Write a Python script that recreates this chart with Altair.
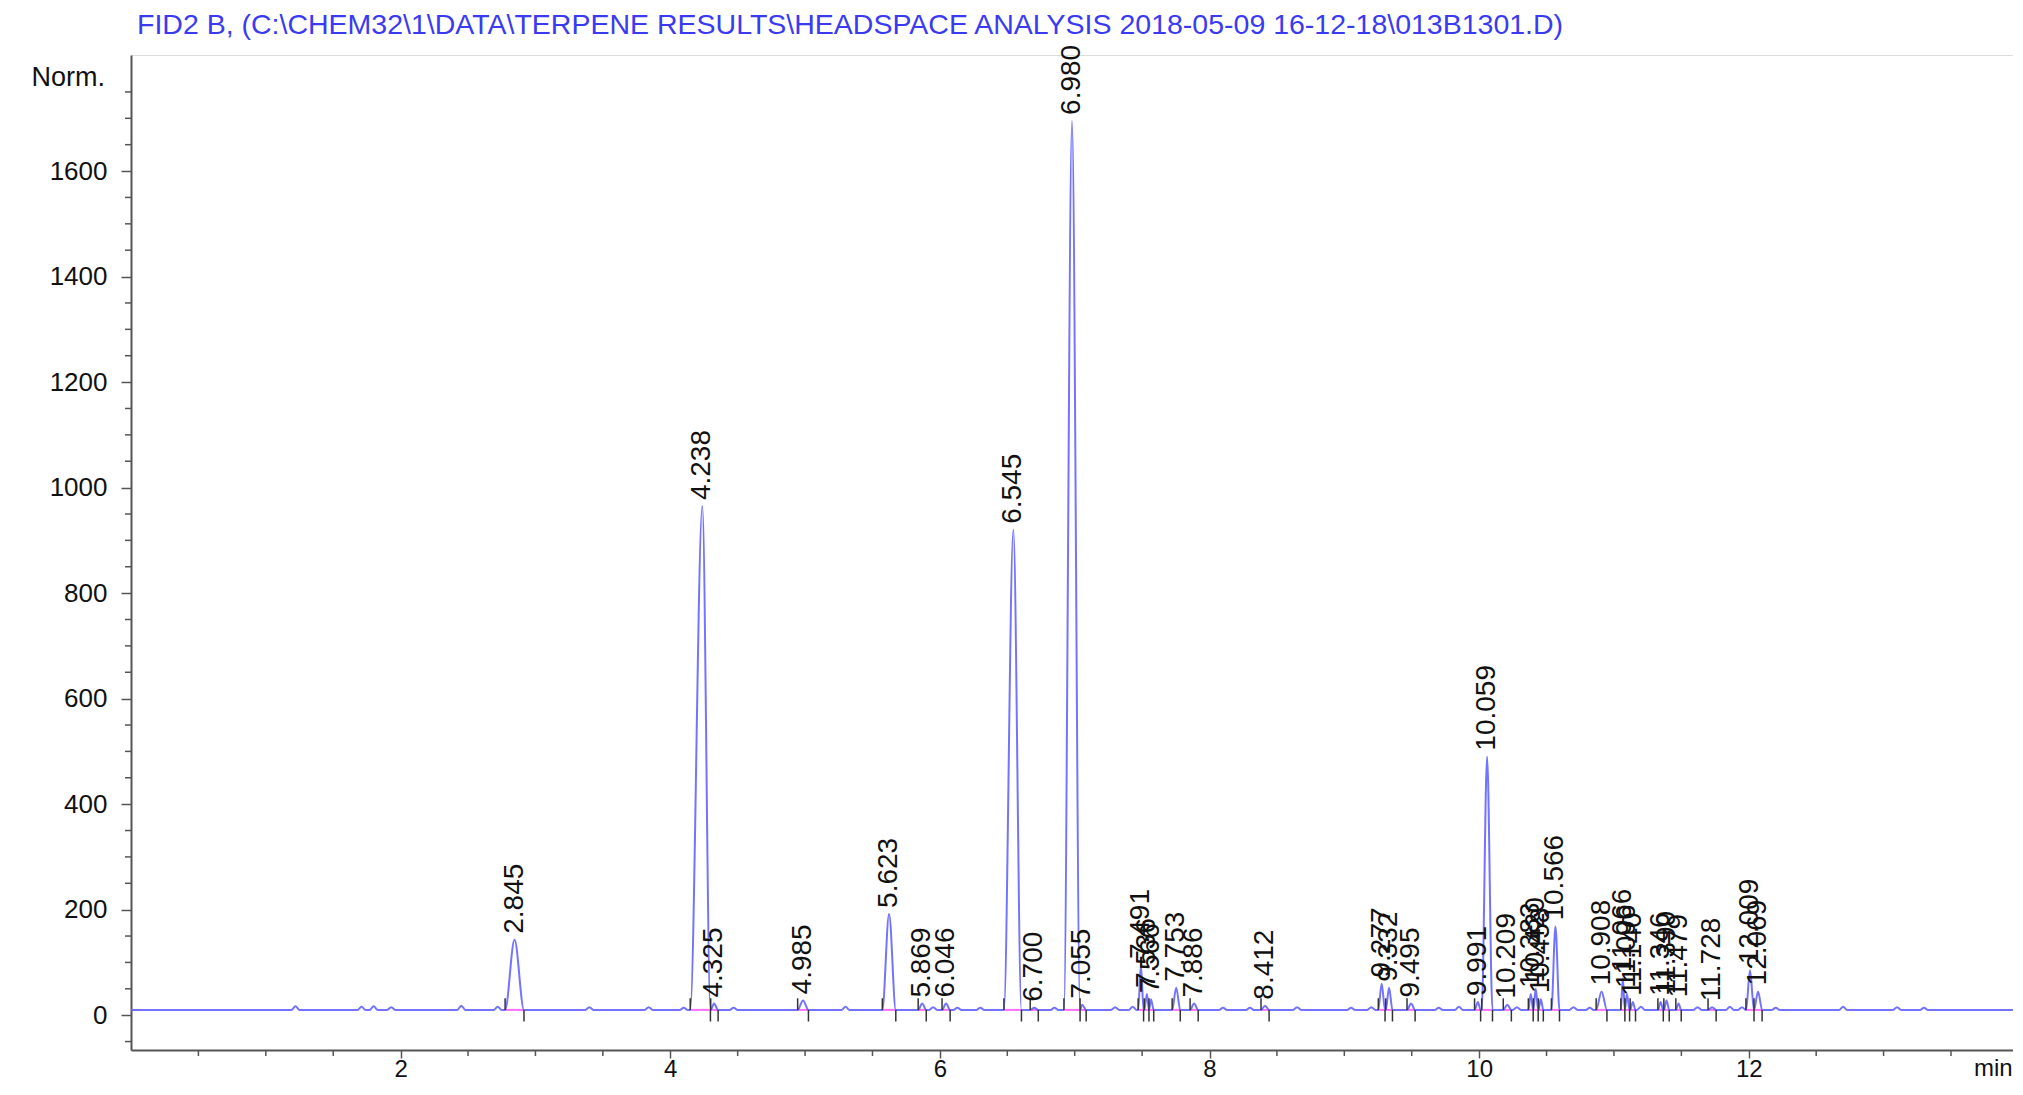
import altair as alt
import pandas as pd

# ---- data ----
peak_rt = [2.845, 4.238, 4.325, 4.985, 5.623, 5.869, 6.046, 6.545, 6.700, 6.980,
           7.055, 7.491, 7.536, 7.566, 7.753, 7.886, 8.412, 9.277, 9.332, 9.495,
           9.991, 10.059, 10.209, 10.383, 10.420, 10.458, 10.566, 10.908, 11.066,
           11.096, 11.140, 11.346, 11.390, 11.479, 11.728, 12.009, 12.069]
peak_h = [143, 965, 22, 28, 192, 22, 22, 920, 14, 1695,
          20, 95, 40, 30, 52, 22, 18, 60, 52, 22,
          25, 490, 20, 40, 50, 30, 168, 45, 70,
          40, 25, 25, 28, 22, 15, 85, 45]
peak_wl = [0.07, 0.09, 0.025, 0.04, 0.05, 0.03, 0.03, 0.07, 0.03, 0.06,
           0.015, 0.02, 0.02, 0.015, 0.03, 0.03, 0.03, 0.025, 0.025, 0.03,
           0.025, 0.04, 0.03, 0.018, 0.018, 0.018, 0.03, 0.04, 0.015,
           0.015, 0.02, 0.02, 0.02, 0.02, 0.03, 0.03, 0.03]
peak_wr = [0.07, 0.06, 0.03, 0.04, 0.05, 0.03, 0.03, 0.06, 0.03, 0.06,
           0.03, 0.02, 0.015, 0.02, 0.03, 0.03, 0.03, 0.025, 0.025, 0.03,
           0.02, 0.04, 0.03, 0.018, 0.018, 0.018, 0.03, 0.04, 0.015,
           0.02, 0.02, 0.02, 0.02, 0.02, 0.03, 0.03, 0.03]

bump_rt = [1.22, 1.71, 1.80, 1.93, 2.45, 2.72, 3.40, 3.84, 4.10, 4.47, 5.30,
           5.95, 6.13, 6.30, 6.85, 7.30, 7.43, 8.10, 8.30, 8.65, 9.05, 9.20,
           9.70, 9.85, 10.28, 10.70, 10.82, 11.20, 11.62, 11.86, 11.95, 12.20,
           12.70, 13.10, 13.30]
bump_h = [17, 16, 17, 15, 18, 16, 15, 15, 14, 14, 16,
          15, 14, 14, 14, 15, 16, 14, 14, 15, 14, 15,
          14, 16, 15, 15, 14, 16, 15, 16, 15, 14,
          16, 15, 14]

BASE = 10
X_END = 13.96
Y_MIN, Y_MAX = -66, 1820

y_major = [0, 200, 400, 600, 800, 1000, 1200, 1400, 1600]
y_minor = [v for v in range(-50, 1801, 50) if v % 200 != 0]
x_major = [2, 4, 6, 8, 10, 12]
x_minor = [v / 2 for v in range(1, 28) if v % 4 != 0]

TITLE = "FID2 B,  (C:\\CHEM32\\1\\DATA\\TERPENE RESULTS\\HEADSPACE ANALYSIS 2018-05-09 16-12-18\\013B1301.D)"

W, H = 1882, 995
FONT = "Liberation Sans"

# ---- tables ----
pts = [(0.0, BASE), (X_END, BASE)]
for t, h, wl, wr in zip(peak_rt, peak_h, peak_wl, peak_wr):
    pts += [(t - wl, BASE), (t, h), (t + wr, BASE)]
for t, h in zip(bump_rt, bump_h):
    pts += [(t - 0.03, BASE), (t, h), (t + 0.03, BASE)]
trace = pd.DataFrame(sorted(pts), columns=["t", "v"])

peaks = pd.DataFrame({
    "rt": peak_rt, "h": peak_h,
    "t0": [t - w for t, w in zip(peak_rt, peak_wl)],
    "t1": [t + w for t, w in zip(peak_rt, peak_wr)],
    "label": [f"{t:.3f}" for t in peak_rt],
})
peaks["b"] = BASE
peaks["up"] = BASE + 22
peaks["down"] = BASE - 22

xs = alt.Scale(domain=[0, X_END], nice=False, zero=False)
ys = alt.Scale(domain=[Y_MIN, Y_MAX], nice=False, zero=False)

axis_common = dict(
    labelFont=FONT, labelColor="#111111",
    domainColor="#555555", domainWidth=2, tickColor="#555555", tickWidth=1.5,
    grid=False, title=None, format="d",
)
XAX = alt.Axis(values=x_major, tickSize=8, labelFontSize=24, labelPadding=18,
               labelBaseline="alphabetic", **axis_common)
YAX = alt.Axis(values=y_major, tickSize=10, labelFontSize=26, labelPadding=14, **axis_common)


def X(f):
    return alt.X(f, scale=xs, axis=XAX)


def Y(f):
    return alt.Y(f, scale=ys, axis=YAX)


line = alt.Chart(trace).mark_line(
    color="#5a5aff", strokeWidth=2, opacity=0.85, interpolate="monotone", clip=True
).encode(x=X("t:Q"), y=Y("v:Q"))

pink = alt.Chart(peaks).mark_rule(color="#ff70ff", strokeWidth=2).encode(
    x=X("t0:Q"), x2="t1:Q", y=Y("b:Q"),
)

start_marks = alt.Chart(peaks).mark_rule(color="#333333", strokeWidth=1.5).encode(
    x=X("t0:Q"), y=Y("b:Q"), y2="up:Q",
)
end_marks = alt.Chart(peaks).mark_rule(color="#333333", strokeWidth=1.5).encode(
    x=X("t1:Q"), y=Y("b:Q"), y2="down:Q",
)

labels = alt.Chart(peaks).mark_text(
    angle=270, align="left", baseline="middle", dx=6,
    font=FONT, fontSize=28, color="#111111",
).encode(x=X("rt:Q"), y=Y("h:Q"), text="label:N")

yminor = alt.Chart(pd.DataFrame({"v": y_minor})).mark_rule(color="#555555", strokeWidth=1.5).encode(
    y=Y("v:Q"), x=alt.value(-6), x2=alt.value(0),
)
xminor = alt.Chart(pd.DataFrame({"t": x_minor})).mark_rule(color="#555555", strokeWidth=1.5).encode(
    x=X("t:Q"), y=alt.value(H), y2=alt.value(H + 6),
)

one = pd.DataFrame({"a": [0]})
title = alt.Chart(one).mark_text(
    text=TITLE, align="left", baseline="alphabetic", font=FONT, fontSize=28.5, color="#3a3af2",
).encode(x=alt.value(6), y=alt.value(-21))
norm = alt.Chart(one).mark_text(
    text="Norm.", align="right", baseline="alphabetic", font=FONT, fontSize=27, color="#111111",
).encode(x=alt.value(-26), y=alt.value(31))
mins = alt.Chart(one).mark_text(
    text="min", align="left", baseline="alphabetic", font=FONT, fontSize=24, color="#111111",
).encode(x=alt.value(1843), y=alt.value(H + 26))

chart = alt.layer(
    pink, line, start_marks, end_marks, labels, yminor, xminor, title, norm, mins
).properties(
    width=W, height=H,
    autosize=alt.AutoSizeParams(type="none"),
    padding={"left": 123, "top": 47, "right": 0, "bottom": 32},
).configure_view(stroke=None).configure(background="white")

chart.save("out.html", embed_options={"renderer": "svg", "actions": False})
